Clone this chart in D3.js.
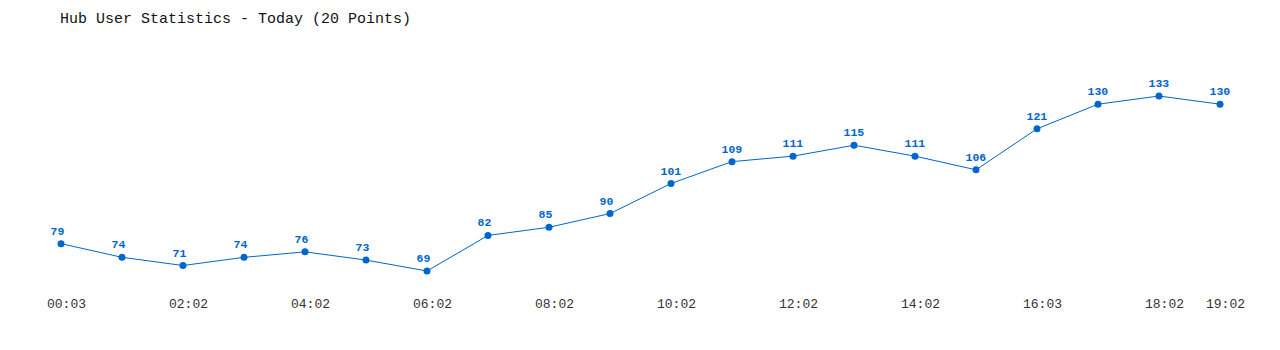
<!DOCTYPE html>
<html>
<head>
<meta charset="utf-8">
<script src="https://cdn.jsdelivr.net/npm/d3@7"></script>
<style>
  html, body { margin: 0; padding: 0; background: #fff; }
  svg { display: block; }
  text { font-family: "Liberation Mono", "DejaVu Sans Mono", monospace; }
</style>
</head>
<body>
<svg id="chart" width="1280" height="350"></svg>
<script>
const times = ["00:03","01:02","02:02","03:02","04:02","05:02","06:02","07:02","08:02","09:02",
               "10:02","11:02","12:02","13:02","14:02","15:02","16:03","17:02","18:02","19:02"];
const users = [79, 74, 71, 74, 76, 73, 69, 82, 85, 90, 101, 109, 111, 115, 111, 106, 121, 130, 133, 130];
const tickLabels = ["00:03","02:02","04:02","06:02","08:02","10:02","12:02","14:02","16:03","18:02","19:02"];
const title = "Hub User Statistics - Today (20 Points)";

const svg = d3.select("#chart");
const color = "#0066cc";

const x = d3.scalePoint().domain(times).range([61, 1220]);
const y = d3.scaleLinear().domain([d3.min(users), d3.max(users)]).range([271, 96]);

svg.append("text")
  .attr("x", 60).attr("y", 23)
  .attr("font-size", 15)
  .attr("fill", "#111")
  .text(title);

const xAxis = d3.axisBottom(x).tickValues(tickLabels).tickSize(0).tickPadding(0);
const gx = svg.append("g").attr("transform", "translate(0,299)").call(xAxis);
gx.select(".domain").remove();
gx.selectAll("text")
  .attr("x", -14.5)
  .attr("text-anchor", "start")
  .attr("font-size", 13)
  .attr("fill", "#333")
  .attr("font-family", "Liberation Mono, DejaVu Sans Mono, monospace");

const line = d3.line().x((d, i) => x(times[i])).y(d => y(d));
svg.append("path")
  .datum(users)
  .attr("d", line)
  .attr("fill", "none")
  .attr("stroke", color)
  .attr("stroke-width", 1);

svg.selectAll("circle.pt").data(users).enter().append("circle")
  .attr("class", "pt")
  .attr("cx", (d, i) => x(times[i]))
  .attr("cy", d => y(d))
  .attr("r", 3.5)
  .attr("fill", color);

svg.selectAll("text.val").data(users).enter().append("text")
  .attr("class", "val")
  .attr("x", (d, i) => x(times[i]) - 10.5)
  .attr("y", d => y(d) - 9)
  .attr("text-anchor", "start")
  .attr("font-size", 11.5)
  .attr("font-weight", "bold")
  .attr("fill", color)
  .text(d => d);
</script>
</body>
</html>
